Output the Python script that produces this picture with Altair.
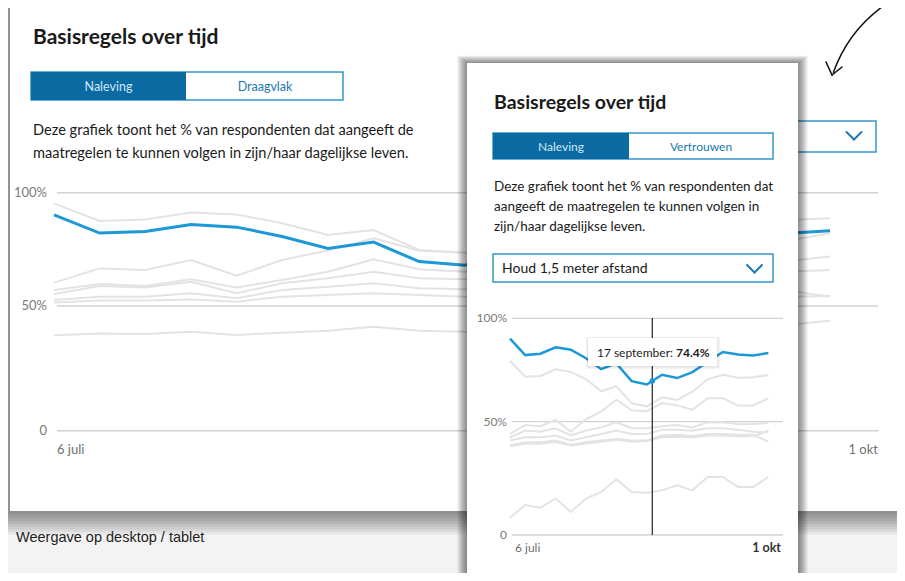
import altair as alt
import pandas as pd

# ---------------- data ----------------
meting = list(range(18))  # 18 measurements between 6 juli and 1 okt
x_labels = ["6 juli", "1 okt"]
y_ticks = [0, 50, 100]
y_tick_labels = ["0", "50%", "100%"]

# highlighted rule: "Houd 1,5 meter afstand"
blue = [90.2, 82.2, 82.9, 86.0, 84.8, 80.7, 75.4, 78.2, 69.6, 68.0,
        72.7, 71.1, 74.0, 78.9, 83.7, 82.5, 82.0, 83.2]

# other rules, desktop view
desk_h = [95.3, 87.5, 88.2, 91.3, 90.4, 86.5, 81.3, 83.5, 74.7, 73.5, 77.0, 76.0, 78.0, 82.0, 87.0, 88.0, 88.0, 88.7]
desk_i = [60.3, 66.6, 65.9, 70.3, 63.4, 70.3, 74.5, 79.9, 74.4, 73.5, 73.0, 72.0, 74.0, 76.0, 79.0, 78.0, 78.5, 82.1]
desk_j = [57.1, 59.7, 58.8, 61.8, 58.2, 61.5, 65.1, 70.6, 66.2, 65.1, 64.0, 63.0, 65.0, 68.0, 70.0, 69.0, 69.6, 71.8]
desk_k = [55.3, 58.8, 58.2, 60.7, 55.6, 60.0, 62.2, 65.1, 62.2, 61.8, 60.0, 61.0, 62.0, 64.0, 65.0, 64.0, 65.1, 65.9]
desk_l = [52.6, 54.1, 54.1, 55.6, 53.4, 57.1, 58.5, 60.0, 57.8, 57.4, 57.0, 56.0, 57.0, 58.0, 57.0, 57.0, 57.1, 54.1]
desk_m = [51.5, 52.4, 52.4, 52.9, 51.9, 54.1, 54.9, 55.6, 54.9, 54.1, 54.0, 53.0, 54.0, 55.0, 54.0, 54.0, 54.0, 54.4]
desk_n = [38.3, 39.0, 38.8, 39.7, 38.4, 39.3, 40.1, 41.7, 40.1, 39.7, 40.0, 41.0, 41.0, 42.0, 42.0, 42.0, 42.4, 44.1]

# other rules, mobile view
mob_a = [79.5, 71.7, 72.1, 75.3, 74.1, 70.6, 64.7, 67.2, 58.9, 57.4, 61.8, 60.5, 64.5, 70.5, 72.7, 71.3, 71.5, 72.6]
mob_b = [44.6, 48.5, 48.0, 50.9, 45.6, 51.2, 54.9, 60.6, 55.5, 55.0, 59.0, 58.0, 55.7, 61.4, 61.4, 57.8, 57.8, 61.4]
mob_c = [43.1, 46.1, 45.6, 47.1, 43.9, 46.1, 47.5, 49.7, 47.1, 47.1, 48.0, 48.5, 47.5, 49.7, 49.7, 49.0, 49.0, 49.4]
mob_d = [41.7, 43.1, 43.1, 43.9, 41.7, 43.1, 44.6, 46.1, 44.6, 44.6, 46.5, 46.5, 46.0, 47.1, 47.1, 46.5, 45.6, 45.3]
mob_e = [39.5, 40.9, 40.9, 41.7, 39.8, 40.9, 41.7, 42.4, 41.7, 41.7, 43.9, 44.2, 43.6, 44.6, 44.6, 44.2, 44.2, 41.2]
mob_f = [39.2, 40.3, 40.3, 41.0, 39.5, 40.4, 41.2, 42.0, 41.2, 41.5, 43.1, 43.4, 43.1, 43.9, 43.9, 43.6, 43.6, 46.0]
mob_g = [7.6, 13.2, 12.0, 16.1, 10.2, 16.1, 19.0, 24.6, 19.0, 18.6, 19.7, 21.9, 19.7, 25.6, 25.6, 21.2, 21.2, 25.6]

tooltip_label = ["17 september:"]
tooltip_pct = [74.4]
tooltip_meting = [9.36]
tooltip_line_value = [69.7]


def long(series):
    rows = []
    for name, vals in series.items():
        for i, v in zip(meting, vals):
            rows.append({"meting": i, "pct": v, "regel": name})
    return pd.DataFrame(rows)


desk_gray_df = long({"h": desk_h, "i": desk_i, "j": desk_j, "k": desk_k,
                     "l": desk_l, "m": desk_m, "n": desk_n})
mob_gray_df = long({"a": mob_a, "b": mob_b, "c": mob_c, "d": mob_d,
                    "e": mob_e, "f": mob_f, "g": mob_g})
blue_df = long({"houd 1,5 meter afstand": blue})
ticks_df = pd.DataFrame({"pct": y_ticks, "lab": y_tick_labels})
tip_df = pd.DataFrame({"meting": tooltip_meting, "pct": tooltip_line_value,
                       "lab": tooltip_label,
                       "val": [f"{v:.1f}%" for v in tooltip_pct]})

# ---------------- layout helpers ----------------
O = 8  # page margin
one = pd.DataFrame({"k": [0]})
FONT = "Lato"
BLUE_FILL = "#0b6aa2"
BLUE_LINE = "#1b98d5"
BORDER = "#3597c8"
GRAY_LINE = "#e3e3e3"
GRID = "#d2d2d2"

layers = []


def box(x1, y1, x2, y2, fill="white", stroke=None, sw=1.0, opacity=1.0):
    kw = dict(fill=fill, opacity=opacity)
    if stroke:
        kw.update(stroke=stroke, strokeWidth=sw)
    else:
        kw.update(strokeWidth=0)
    layers.append(alt.Chart(one).mark_rect(**kw).encode(
        x=alt.value(x1 - O), x2=alt.value(x2 - O),
        y=alt.value(y1 - O), y2=alt.value(y2 - O)))


def seg(x1, y1, x2, y2, color="#1a7ab0", sw=2.0):
    layers.append(alt.Chart(one).mark_rule(color=color, strokeWidth=sw, strokeCap="round").encode(
        x=alt.value(x1 - O), x2=alt.value(x2 - O),
        y=alt.value(y1 - O), y2=alt.value(y2 - O)))


def txt(s, x, y, size, color="#1a1a1a", weight="normal", align="left", font=FONT):
    layers.append(alt.Chart(pd.DataFrame({"t": [s]})).mark_text(
        align=align, baseline="middle", fontSize=size, fontWeight=weight,
        color=color, font=font).encode(
        x=alt.value(x - O), y=alt.value(y - O), text="t:N"))


def shadow(x1, y1, x2, y2, n=8, step=1.4, drop=0.8, op=0.045):
    for k in range(n, 0, -1):
        e = k * step
        box(x1 - e, y1 - e + k * drop, x2 + e, y2 + e + k * drop, fill="#000000", opacity=op)


def chevron(cx, top, w=7.5, h=7.5, color="#1a7ab0"):
    seg(cx - w, top, cx, top + h, color)
    seg(cx, top + h, cx + w, top, color)


# scales (pixel ranges inside the page)
xd = alt.Scale(domain=[0, 17], range=[54 - O, 830 - O], nice=False, zero=False)
yd = alt.Scale(domain=[0, 50, 100], range=[430.7 - O, 306 - O, 192.7 - O], nice=False, zero=False)
xm = alt.Scale(domain=[0, 17], range=[510 - O, 768.4 - O], nice=False, zero=False)
ym = alt.Scale(domain=[0, 50, 100], range=[535 - O, 421.7 - O, 318.3 - O], nice=False, zero=False)

# ---------------- desktop card ----------------
shadow(10, 5, 897, 511, n=9, step=1.3, drop=1.3, op=0.055)
box(10, 5, 897, 511)
txt("Basisregels over tijd", 33, 38, 21, weight="bold")
box(31, 72, 343, 100, fill="white", stroke=BORDER, sw=1.5)
box(31, 72, 186, 100, fill=BLUE_FILL)
txt("Naleving", 108.5, 86.5, 12.5, color="#cfe9f7", align="center")
txt("Draagvlak", 265, 86.5, 12.5, color="#1a7ab0", align="center")
txt("Deze grafiek toont het % van respondenten dat aangeeft de", 33, 131, 14.6)
txt("maatregelen te kunnen volgen in zijn/haar dagelijkse leven.", 33, 154, 14.6)
box(560, 121, 876, 152, fill="white", stroke=BORDER, sw=1.5)
chevron(854, 132)

layers.append(alt.Chart(ticks_df).mark_rule(color=GRID, strokeWidth=1.5).encode(
    y=alt.Y("pct:Q", scale=yd, axis=None), x=alt.value(57 - O), x2=alt.value(878 - O)))
layers.append(alt.Chart(ticks_df).mark_text(align="right", baseline="middle", fontSize=13,
                                            color="#7a7a7a", font=FONT).encode(
    y=alt.Y("pct:Q", scale=yd, axis=None), x=alt.value(47 - O), text="lab:N"))
txt(x_labels[0], 57, 450, 13, color="#6f6f6f")
txt(x_labels[1], 878, 450, 13, color="#6f6f6f", align="right")
layers.append(alt.Chart(desk_gray_df).mark_line(color=GRAY_LINE, strokeWidth=2).encode(
    x=alt.X("meting:Q", scale=xd, axis=None), y=alt.Y("pct:Q", scale=yd, axis=None), detail="regel:N"))
layers.append(alt.Chart(blue_df).mark_line(color=BLUE_LINE, strokeWidth=3).encode(
    x=alt.X("meting:Q", scale=xd, axis=None), y=alt.Y("pct:Q", scale=yd, axis=None)))

txt("Weergave op desktop / tablet", 16, 538, 14.5, color="#222222", font="Liberation Sans")

# ---------------- mobile card ----------------
shadow(467, 63, 798, 600, n=8, step=1.2, drop=0.3, op=0.065)
box(467, 63, 798, 600)
txt("Basisregels over tijd", 494, 103, 19.5, weight="bold")
box(493, 133, 773, 159, fill="white", stroke=BORDER, sw=1.5)
box(493, 133, 629, 159, fill=BLUE_FILL)
txt("Naleving", 561, 146.5, 12, color="#cfe9f7", align="center")
txt("Vertrouwen", 701, 146.5, 12, color="#1a7ab0", align="center")
txt("Deze grafiek toont het % van respondenten dat", 494, 187, 13.5)
txt("aangeeft de maatregelen te kunnen volgen in", 494, 207, 13.5)
txt("zijn/haar dagelijkse leven.", 494, 227, 13.5)
box(493, 254, 773, 282, fill="white", stroke=BORDER, sw=1.5)
txt("Houd 1,5 meter afstand", 502, 268.5, 14)
chevron(754.5, 265)

layers.append(alt.Chart(ticks_df).mark_rule(color=GRID, strokeWidth=1.3).encode(
    y=alt.Y("pct:Q", scale=ym, axis=None), x=alt.value(512 - O), x2=alt.value(783 - O)))
layers.append(alt.Chart(ticks_df).mark_text(align="right", baseline="middle", fontSize=12,
                                            color="#7a7a7a", font=FONT).encode(
    y=alt.Y("pct:Q", scale=ym, axis=None), x=alt.value(507 - O), text="lab:N"))
txt(x_labels[0], 515, 548, 12, color="#6f6f6f")
txt(x_labels[1], 781, 548, 12.5, color="#333333", align="right", weight="bold")
layers.append(alt.Chart(mob_gray_df).mark_line(color=GRAY_LINE, strokeWidth=2).encode(
    x=alt.X("meting:Q", scale=xm, axis=None), y=alt.Y("pct:Q", scale=ym, axis=None), detail="regel:N"))
layers.append(alt.Chart(blue_df).mark_line(color=BLUE_LINE, strokeWidth=2.5).encode(
    x=alt.X("meting:Q", scale=xm, axis=None), y=alt.Y("pct:Q", scale=ym, axis=None)))
layers.append(alt.Chart(tip_df).mark_rule(color="#222222", strokeWidth=1.2).encode(
    x=alt.X("meting:Q", scale=xm, axis=None), y=alt.value(318 - O), y2=alt.value(535 - O)))
layers.append(alt.Chart(tip_df).mark_point(filled=True, size=30, color=BLUE_LINE, opacity=1).encode(
    x=alt.X("meting:Q", scale=xm, axis=None), y=alt.Y("pct:Q", scale=ym, axis=None)))
# tooltip box
box(586, 337, 720, 369, fill="#000000", opacity=0.05)
box(587, 337.5, 718.5, 367.5, fill="#000000", opacity=0.05)
box(588, 338, 717, 366, fill="white")
layers.append(alt.Chart(tip_df).mark_text(align="right", baseline="middle", fontSize=12,
                                          color="#222222", font=FONT).encode(
    x=alt.value(673 - O), y=alt.value(352.5 - O), text="lab:N"))
layers.append(alt.Chart(tip_df).mark_text(align="left", baseline="middle", fontSize=12,
                                          fontWeight="bold", color="#222222", font=FONT).encode(
    x=alt.value(676 - O), y=alt.value(352.5 - O), text="val:N"))

# ---------------- hand-drawn arrows ----------------
layers.append(alt.Chart(one).mark_arc(color="#111111").encode(
    x=alt.value(967.7 - O), y=alt.value(121.5 - O),
    theta=alt.value(5.06), theta2=alt.value(5.73),
    radius=alt.value(143.8), radius2=alt.value(142.3)))
seg(826, 62, 832, 75, color="#111111", sw=1.6)
seg(842, 67, 832, 75, color="#111111", sw=1.6)

chart = alt.layer(*layers).resolve_scale(x="independent", y="independent").properties(
    width=905 - 2 * O, height=581 - 2 * O, padding=0, autosize="none",
    background="#f3f3f3").configure_view(strokeWidth=0)

chart.save("out.html", embed_options={"renderer": "svg", "actions": False})
